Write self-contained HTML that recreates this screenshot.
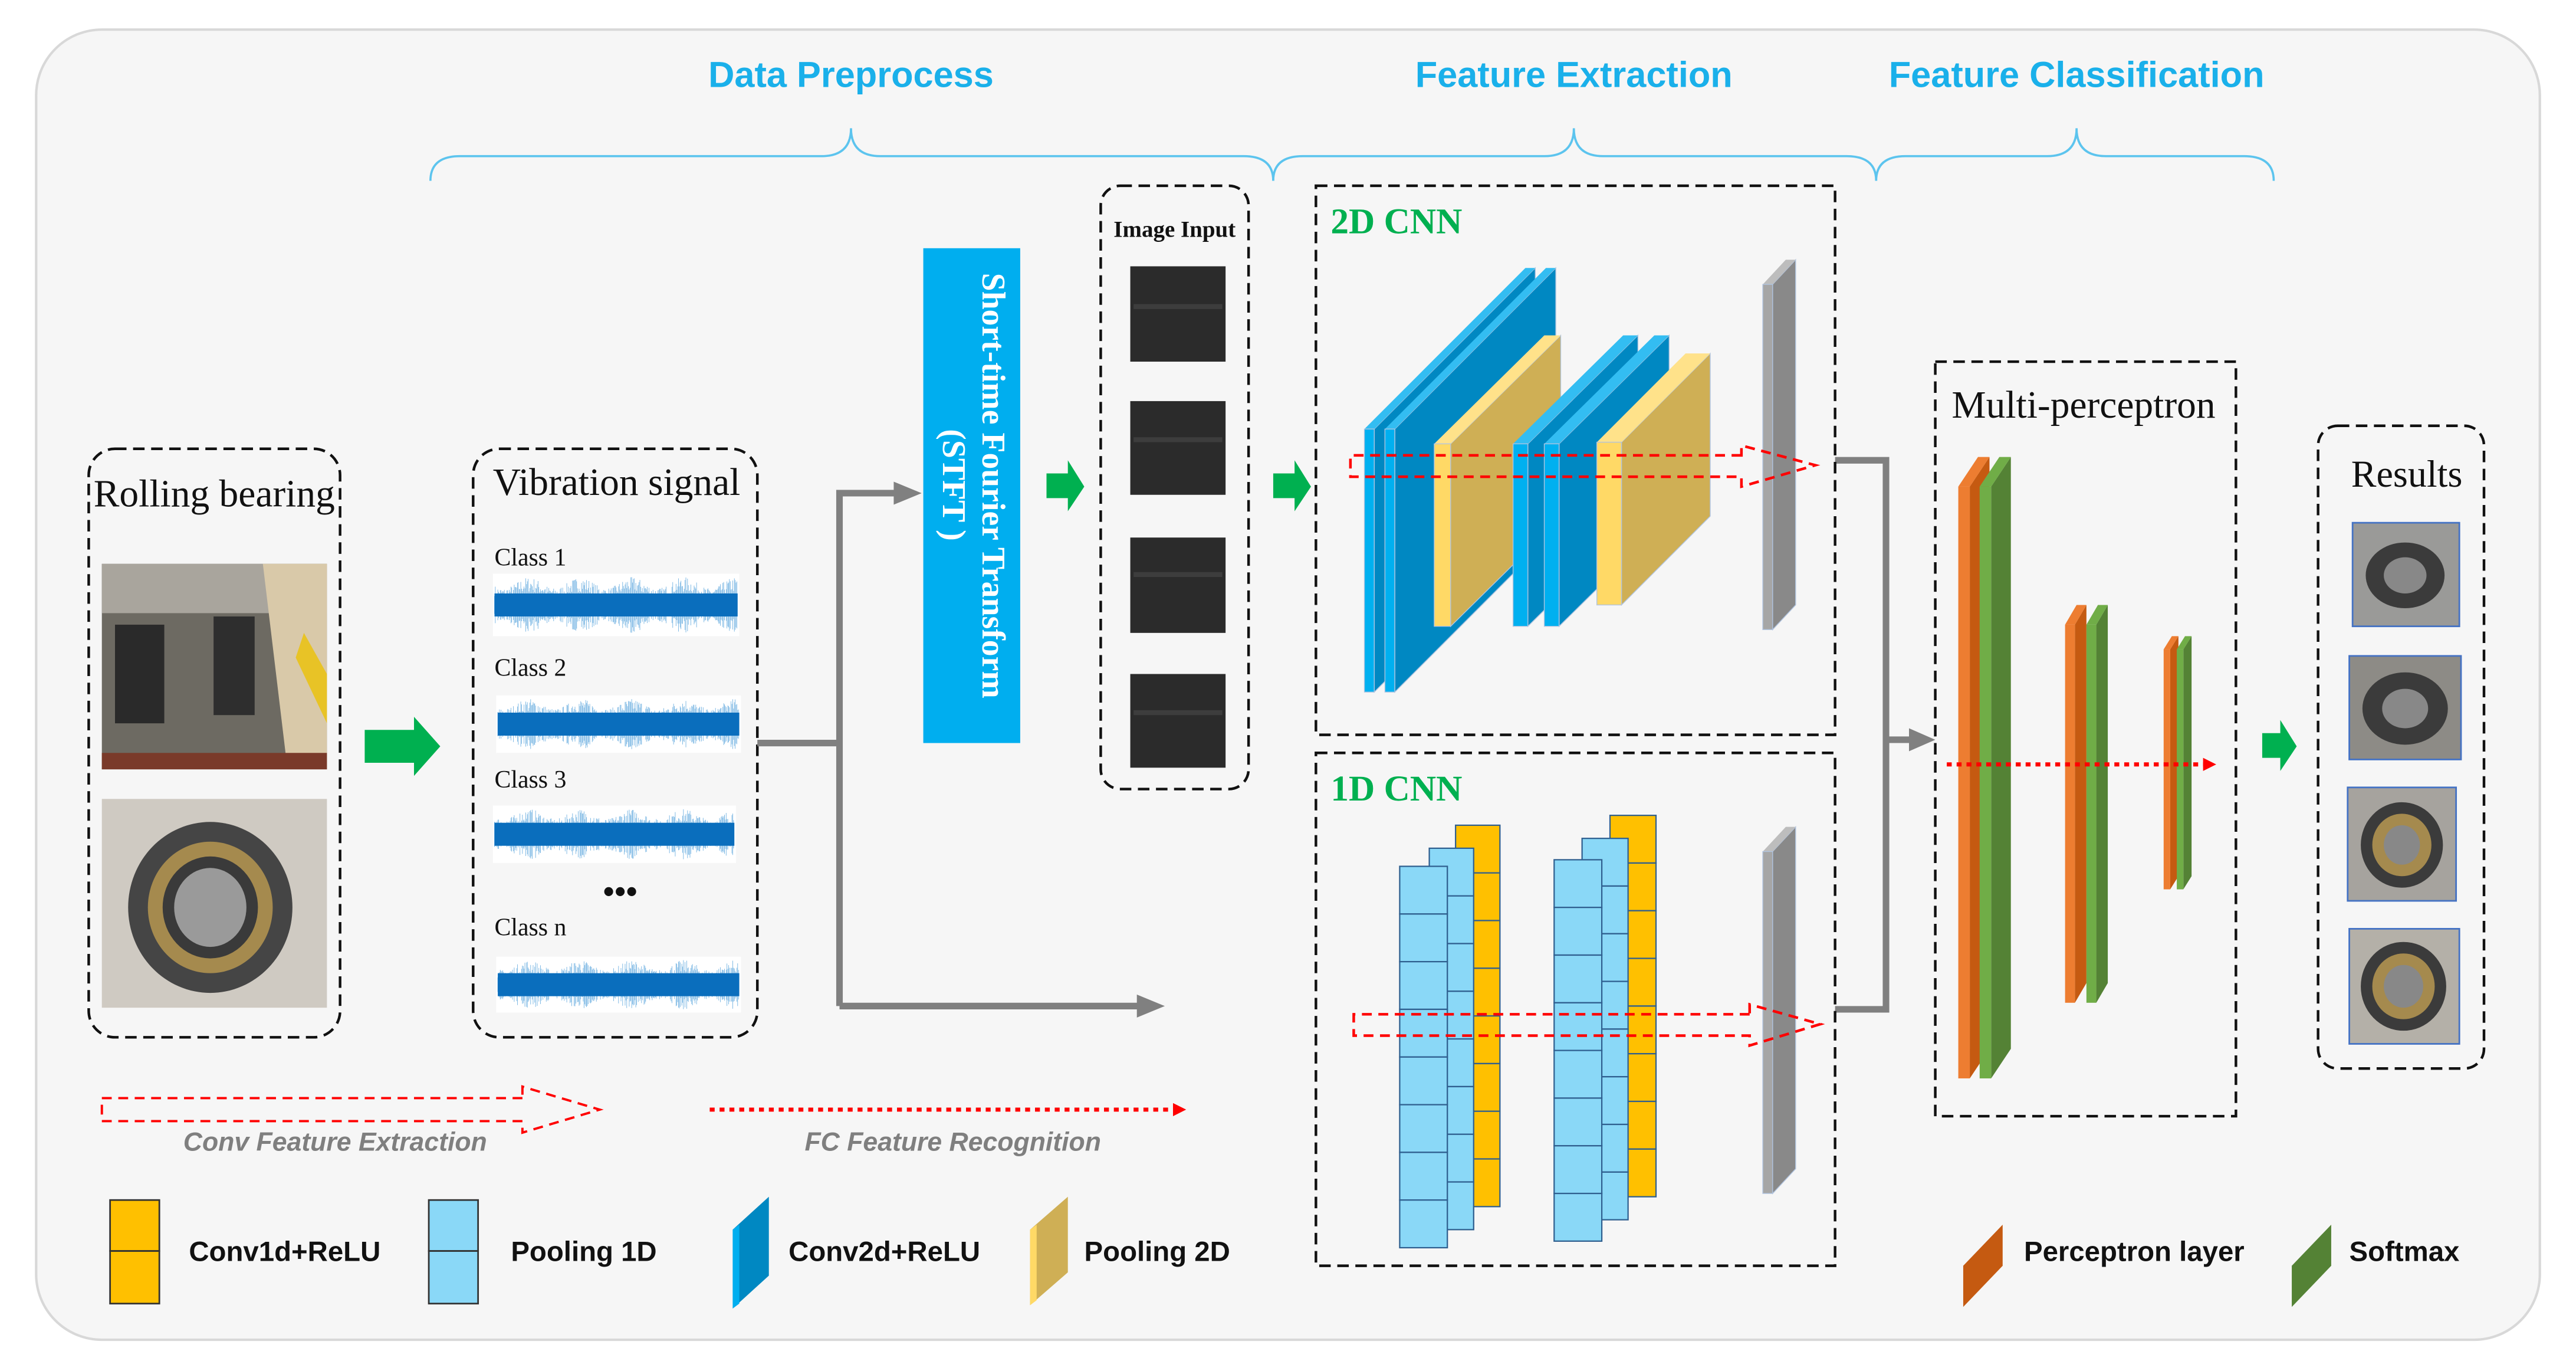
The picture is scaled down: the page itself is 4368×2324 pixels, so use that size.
<!DOCTYPE html>
<html><head><meta charset="utf-8">
<style>
html,body{margin:0;padding:0;background:#fff}
svg{display:block}
.serif{font-family:"Liberation Serif",serif}
.sans{font-family:"Liberation Sans",sans-serif}
</style></head>
<body>
<svg id="s" width="4368" height="2324" viewBox="0 0 1568 834" preserveAspectRatio="none" xmlns="http://www.w3.org/2000/svg">
<defs>
<marker id="ra" markerWidth="8" markerHeight="8" refX="6" refY="4" orient="auto" markerUnits="userSpaceOnUse"><path d="M0,0 L8,4 L0,8 z" fill="#ff0000"/></marker>
</defs>
<rect x="22" y="18" width="1524" height="797" rx="40" fill="#f6f6f6" stroke="#d8d8d8" stroke-width="1.5"/>

<g class="sans" font-weight="bold" font-size="22" fill="#1ab0ea" text-anchor="middle">
<text x="518" y="53">Data Preprocess</text>
<text x="958" y="53">Feature Extraction</text>
<text x="1264" y="53">Feature Classification</text>
</g>
<g fill="none" stroke="#5cc4ee" stroke-width="1.3">
<path d="M262,110 Q262,95 280,95 L500,95 Q518,95 518,78 Q518,95 536,95 L757,95 Q775,95 775,110"/>
<path d="M775,110 Q775,95 793,95 L940,95 Q958,95 958,78 Q958,95 976,95 L1124,95 Q1142,95 1142,110"/>
<path d="M1142,110 Q1142,95 1160,95 L1246,95 Q1264,95 1264,78 Q1264,95 1282,95 L1366,95 Q1384,95 1384,110"/>
</g>

<rect x="54" y="273" width="153" height="358" rx="16" fill="none" stroke="#111" stroke-width="1.6" stroke-dasharray="7,4"/>
<text x="57" y="308" class="serif" font-size="23.5" fill="#111">Rolling bearing</text>
<rect x="62" y="343" width="137" height="125" fill="#6d6a62"/>
<rect x="62" y="343" width="137" height="30" fill="#a9a59d"/>
<polygon points="160,343 199,343 199,468 175,468" fill="#d9c9a9"/>
<rect x="70" y="380" width="30" height="60" fill="#2a2a2a"/>
<rect x="130" y="375" width="25" height="60" fill="#2e2e2e"/>
<polygon points="185,385 199,410 199,440 180,400" fill="#e8c326"/>
<rect x="62" y="458" width="137" height="10" fill="#7a3a2a"/>
<rect x="62" y="486" width="137" height="127" fill="#cfcac2"/>
<ellipse cx="128" cy="552" rx="50" ry="52" fill="#454545"/>
<ellipse cx="128" cy="552" rx="38" ry="40" fill="#a58a4e"/>
<ellipse cx="128" cy="552" rx="29" ry="31" fill="#3a3a3a"/>
<ellipse cx="128" cy="552" rx="22" ry="24" fill="#9a9a9a"/>

<polygon points="222,444 252,444 252,436 268,454 252,472 252,464 222,464" fill="#00b050"/>
<polygon points="637,288 650,288 650,280 660,296 650,311 650,303 637,303" fill="#00b050"/>
<polygon points="775,288 788,288 788,280 798,296 788,311 788,303 775,303" fill="#00b050"/>
<polygon points="1377,446 1388,446 1388,438 1398,454 1388,469 1388,461 1377,461" fill="#00b050"/>

<rect x="288" y="273" width="173" height="358" rx="16" fill="none" stroke="#111" stroke-width="1.6" stroke-dasharray="7,4"/>
<text x="300" y="301" class="serif" font-size="23.5" fill="#111">Vibration signal</text>
<g class="serif" font-size="15" fill="#111">
<text x="301" y="344">Class 1</text><text x="301" y="411">Class 2</text><text x="301" y="479">Class 3</text><text x="301" y="569">Class n</text>
</g>
<text x="367" y="549" class="serif" font-size="20" font-weight="bold" fill="#111">•••</text>
<g id="sigs"></g>

<g stroke="#808080" stroke-width="4" fill="none">
<polyline points="461,452 511,452"/>
<polyline points="511,612 511,300 546,300"/>
<polyline points="511,612 694,612"/>
<polyline points="1117,280 1148,280 1148,614 1117,614"/>
<polyline points="1148,450 1164,450"/>
</g>
<g fill="#808080">
<polygon points="544,293 561,300 544,307"/>
<polygon points="692,605 709,612 692,619"/>
<polygon points="1162,443 1178,450 1162,457"/>
</g>

<rect x="562" y="151" width="59" height="301" fill="#00aeef"/>
<g transform="translate(598,166) rotate(90)" class="serif" font-weight="bold" font-size="20" fill="#fff">
<text x="0" y="0">Short-time Fourier Transform</text>
<text x="95" y="24">(STFT )</text>
</g>

<rect x="670" y="113" width="90" height="367" rx="12" fill="none" stroke="#111" stroke-width="1.6" stroke-dasharray="7,4"/>
<text x="715" y="144" class="serif" font-weight="bold" font-size="14" text-anchor="middle" fill="#111">Image Input</text>
<g fill="#2b2b2b">
<rect x="688" y="162" width="58" height="58"/><rect x="688" y="244" width="58" height="57"/>
<rect x="688" y="327" width="58" height="58"/><rect x="688" y="410" width="58" height="57"/>
</g>
<g fill="#4a4a4a" opacity="0.6">
<rect x="690" y="185" width="54" height="3"/><rect x="690" y="266" width="54" height="3"/><rect x="690" y="348" width="54" height="3"/><rect x="690" y="432" width="54" height="3"/>
</g>

<rect x="801" y="113" width="316" height="334" fill="none" stroke="#111" stroke-width="1.6" stroke-dasharray="7,4"/>
<text x="810" y="142" class="serif" font-weight="bold" font-size="22" fill="#00b050">2D CNN</text>
<g id="cnn2"></g>
<g fill="none" stroke="#ff0000" stroke-width="1.6" stroke-dasharray="6,4">
<path d="M1060,277 L822,277 L822,290 L1060,290 L1060,296 L1105,283 L1060,271 Z"/>
</g>

<rect x="801" y="458" width="316" height="312" fill="none" stroke="#111" stroke-width="1.6" stroke-dasharray="7,4"/>
<text x="810" y="487" class="serif" font-weight="bold" font-size="22" fill="#00b050">1D CNN</text>
<g id="cnn1"></g>
<g fill="none" stroke="#ff0000" stroke-width="1.6" stroke-dasharray="6,4">
<path d="M1065,617 L824,617 L824,630 L1065,630 L1065,636 L1108,623 L1065,611 Z"/>
</g>

<rect x="1178" y="220" width="183" height="459" fill="none" stroke="#111" stroke-width="1.6" stroke-dasharray="7,4"/>
<text x="1188" y="254" class="serif" font-size="23.5" fill="#111">Multi-perceptron</text>
<g id="mlp"></g>
<line x1="1185" y1="465" x2="1347" y2="465" stroke="#ff0000" stroke-width="2.5" stroke-dasharray="3,3" marker-end="url(#ra)"/>

<rect x="1411" y="259" width="101" height="391" rx="12" fill="none" stroke="#111" stroke-width="1.6" stroke-dasharray="7,4"/>
<text x="1465" y="296" class="serif" font-size="23" text-anchor="middle" fill="#111">Results</text>
<g stroke="#4472c4" stroke-width="1">
<rect x="1432" y="318" width="65" height="63" fill="#9a9a98"/>
<rect x="1430" y="399" width="68" height="63" fill="#8d8b86"/>
<rect x="1429" y="479" width="66" height="69" fill="#a6a39e"/>
<rect x="1430" y="565" width="67" height="70" fill="#b4b0a8"/>
</g>
<g fill="#3b3b3b">
<ellipse cx="1464" cy="350" rx="24" ry="20"/><ellipse cx="1464" cy="431" rx="26" ry="22"/>
<ellipse cx="1462" cy="514" rx="25" ry="26"/><ellipse cx="1463" cy="600" rx="26" ry="27"/>
</g>
<g fill="#a58a4e"><ellipse cx="1462" cy="514" rx="18" ry="19"/><ellipse cx="1463" cy="600" rx="19" ry="20"/></g>
<g fill="#888"><ellipse cx="1464" cy="350" rx="13" ry="11"/><ellipse cx="1464" cy="431" rx="14" ry="12"/><ellipse cx="1462" cy="514" rx="11" ry="12"/><ellipse cx="1463" cy="600" rx="12" ry="13"/></g>

<path d="M318,668 L62,668 L62,682 L318,682 L318,689 L365,675 L318,661 Z" fill="none" stroke="#ff0000" stroke-width="1.4" stroke-dasharray="6,4"/>
<text x="204" y="700" class="sans" font-style="italic" font-weight="bold" font-size="16" fill="#7f7f7f" text-anchor="middle">Conv Feature Extraction</text>
<line x1="432" y1="675" x2="720" y2="675" stroke="#ff0000" stroke-width="2.5" stroke-dasharray="3,3" marker-end="url(#ra)"/>
<text x="580" y="700" class="sans" font-style="italic" font-weight="bold" font-size="16" fill="#7f7f7f" text-anchor="middle">FC Feature Recognition</text>

<g stroke="#333" stroke-width="1">
<rect x="67" y="730" width="30" height="31" fill="#ffc000"/><rect x="67" y="761" width="30" height="32" fill="#ffc000"/>
<rect x="261" y="730" width="30" height="31" fill="#8ad8f7"/><rect x="261" y="761" width="30" height="32" fill="#8ad8f7"/>
</g>
<polygon points="446,748 468,728 468,776 446,796" fill="#0088c2"/>
<polygon points="446,748 450,745 450,793 446,796" fill="#00aeef"/>
<polygon points="627,748 650,728 650,774 627,794" fill="#cfaf55"/>
<polygon points="627,748 631,745 631,791 627,794" fill="#ffd966"/>
<polygon points="1195,770 1219,745 1219,770 1195,795" fill="#c55a11"/>
<polygon points="1395,770 1419,745 1419,770 1395,795" fill="#548235"/>
<g class="sans" font-weight="bold" font-size="17" fill="#111">
<text x="115" y="767">Conv1d+ReLU</text><text x="311" y="767">Pooling 1D</text>
<text x="480" y="767">Conv2d+ReLU</text><text x="660" y="767">Pooling 2D</text>
<text x="1232" y="767">Perceptron layer</text><text x="1430" y="767">Softmax</text>
</g>
</svg>
<script>
var NS="http://www.w3.org/2000/svg";
function el(p,t,a){var e=document.createElementNS(NS,t);for(var k in a)e.setAttribute(k,a[k]);p.appendChild(e);return e;}
var sg=document.getElementById("sigs");
var seed=7;function rnd(){seed=(seed*16807)%2147483647;return seed/2147483647;}
[[300,349,150,38],[302,423,149,35],[300,490,148,35],[302,582,149,34]].forEach(function(s){
 el(sg,"rect",{x:s[0],y:s[1],width:s[2],height:s[3],fill:"#fff"});
 var cy=s[1]+s[3]/2,d="";
 var H=s[3]/2-2;
 for(var x=s[0]+1;x<s[0]+s[2]-1;x+=0.5){var a=H*(0.45+0.55*rnd())*(0.8+0.2*Math.sin(x/5));d+="M"+x.toFixed(1)+","+(cy-a).toFixed(1)+"V"+(cy+a).toFixed(1);}
 el(sg,"path",{d:d,stroke:"#6aaee0","stroke-width":0.3,fill:"none"});
 el(sg,"rect",{x:s[0]+1,y:cy-7,width:s[2]-2,height:14,fill:"#0a6ebd"});
});
function layer(g,x,w,y1,y2,dx,dy,front,side,top){
 el(g,"polygon",{points:[x+w,y1,x+w+dx,y1+dy,x+w+dx,y2+dy,x+w,y2].join(","),fill:side,stroke:"#b0c4e0","stroke-width":0.5});
 el(g,"polygon",{points:[x,y1,x+dx,y1+dy,x+w+dx,y1+dy,x+w,y1].join(","),fill:top});
 el(g,"rect",{x:x,y:y1,width:w,height:y2-y1,fill:front,stroke:"#b0c4e0","stroke-width":0.5});
}
var c2=document.getElementById("cnn2");
layer(c2,830.5,6,261,421,98,-98,"#00b0f0","#0088c2","#33bdf2");
layer(c2,843,6,261,421,98,-98,"#00b0f0","#0088c2","#33bdf2");
layer(c2,873,10,270,381,67,-66,"#ffd966","#cfaf55","#ffe28a");
layer(c2,921,9,270,381,67,-66,"#00b0f0","#0088c2","#33bdf2");
layer(c2,940,9,270,381,67,-66,"#00b0f0","#0088c2","#33bdf2");
layer(c2,972,15,269,368,54,-54,"#ffd966","#cfaf55","#ffe28a");
layer(c2,1073,6,173,383,14,-15,"#a6a6a6","#898989","#bdbdbd");
var c1=document.getElementById("cnn1");
function col(x,w,top,n,h,fill){for(var i=0;i<n;i++)el(c1,"rect",{x:x,y:top+i*h,width:w,height:h,fill:fill,stroke:"#2f5f8f","stroke-width":0.8});}
col(886,27,502,8,29,"#ffc000");col(870,27,516,8,29,"#8ad8f7");col(852,29,527,8,29,"#8ad8f7");
col(980,28,496,8,29,"#ffc000");col(963,28,510,8,29,"#8ad8f7");col(946,29,523,8,29,"#8ad8f7");
layer(c1,1073,6,518,726,14,-15,"#a6a6a6","#898989","#bdbdbd");
var m=document.getElementById("mlp");
function pl(x,w,y1,y2,dx,dy,f,s){el(m,"polygon",{points:[x+w,y1,x+w+dx,y1+dy,x+w+dx,y2+dy,x+w,y2].join(","),fill:s});el(m,"polygon",{points:[x,y1,x+dx,y1+dy,x+w+dx,y1+dy,x+w,y1].join(","),fill:f});el(m,"rect",{x:x,y:y1,width:w,height:y2-y1,fill:f});}
pl(1192,7,296,656,12,-18,"#ed7d31","#c55a11");pl(1205,7,296,656,12,-18,"#70ad47","#548235");
pl(1257,6,380,610,7,-12,"#ed7d31","#c55a11");pl(1270,6,380,610,7,-12,"#70ad47","#548235");
pl(1317,4,395,541,5,-8,"#ed7d31","#c55a11");pl(1325,4,395,541,5,-8,"#70ad47","#548235");
</script>
</body></html>
